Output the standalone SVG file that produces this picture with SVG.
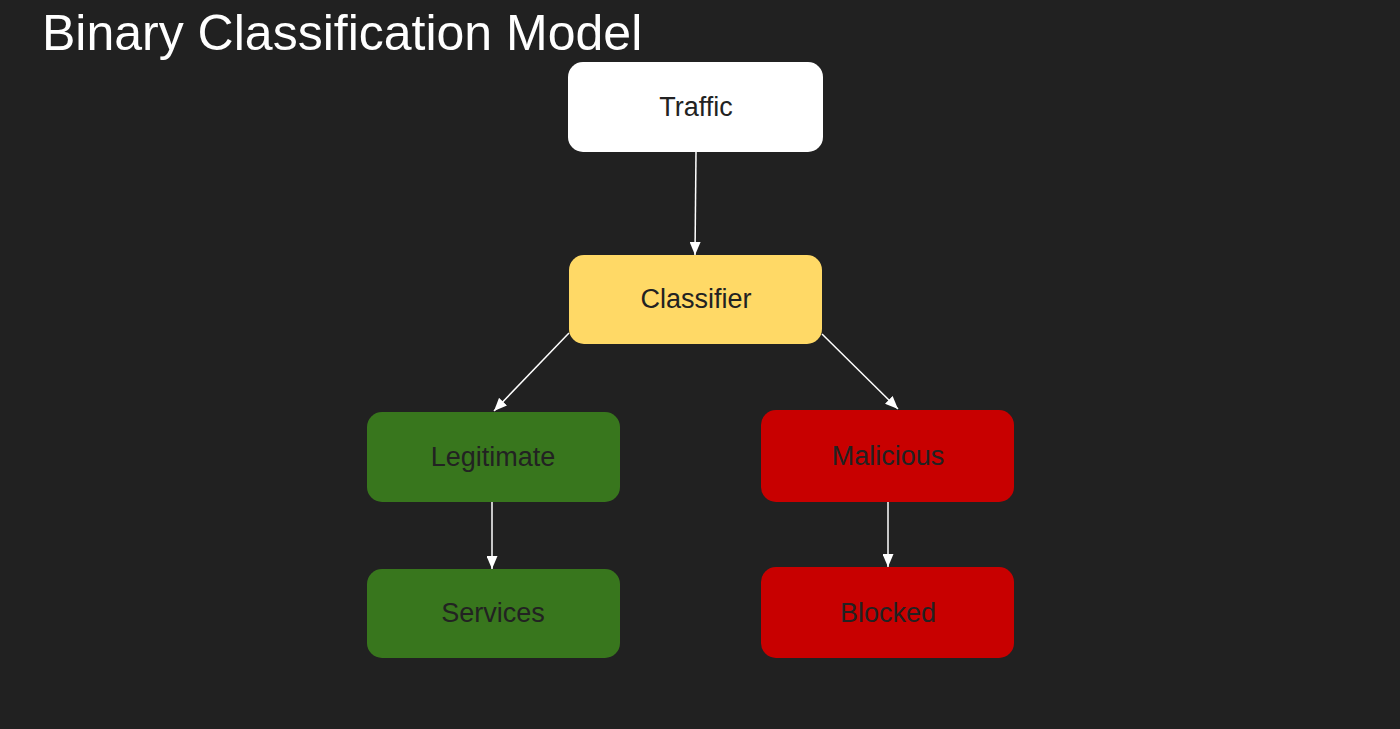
<svg xmlns="http://www.w3.org/2000/svg" width="1400" height="729" viewBox="0 0 1400 729">
<style>
.t{font-family:"Liberation Sans",Arial,sans-serif;font-size:27px;fill:#222222;text-anchor:middle;dominant-baseline:central}
.c{stroke:#ffffff;stroke-width:1.5;fill:none}
</style>
<defs>
<marker id="ah" viewBox="0 0 13 11" refX="13" refY="5.5" markerWidth="13" markerHeight="11" markerUnits="userSpaceOnUse" orient="auto">
<path d="M0,0 L13,5.5 L0,11 z" fill="#ffffff"/>
</marker>
</defs>
<rect width="1400" height="729" fill="#212121"/>
<text x="42" y="50" font-family="'Liberation Sans',Arial,sans-serif" font-size="50" fill="#ffffff">Binary Classification Model</text>
<g id="connectors">
<line class="c" x1="696" y1="152" x2="695" y2="255" marker-end="url(#ah)"/>
<line class="c" x1="569" y1="333" x2="494" y2="411" marker-end="url(#ah)"/>
<line class="c" x1="822" y1="334" x2="898" y2="409" marker-end="url(#ah)"/>
<line class="c" x1="492" y1="502" x2="492" y2="569" marker-end="url(#ah)"/>
<line class="c" x1="888" y1="502" x2="888" y2="567" marker-end="url(#ah)"/>
</g>
<g id="traffic">
<rect x="568" y="62" width="255" height="90" rx="15" fill="#ffffff"/>
<text class="t" x="696" y="107">Traffic</text>
</g>
<g id="classifier">
<rect x="569" y="255" width="253" height="89" rx="15" fill="#ffd966"/>
<text class="t" x="696" y="299">Classifier</text>
</g>
<g id="legitimate">
<rect x="367" y="412" width="253" height="90" rx="15" fill="#38761d"/>
<text class="t" x="493" y="457">Legitimate</text>
</g>
<g id="services">
<rect x="367" y="569" width="253" height="89" rx="15" fill="#38761d"/>
<text class="t" x="493" y="613">Services</text>
</g>
<g id="malicious">
<rect x="761" y="410" width="253" height="92" rx="15" fill="#c80000"/>
<text class="t" x="888" y="456">Malicious</text>
</g>
<g id="blocked">
<rect x="761" y="567" width="253" height="91" rx="15" fill="#c80000"/>
<text class="t" x="888" y="613">Blocked</text>
</g>
</svg>
